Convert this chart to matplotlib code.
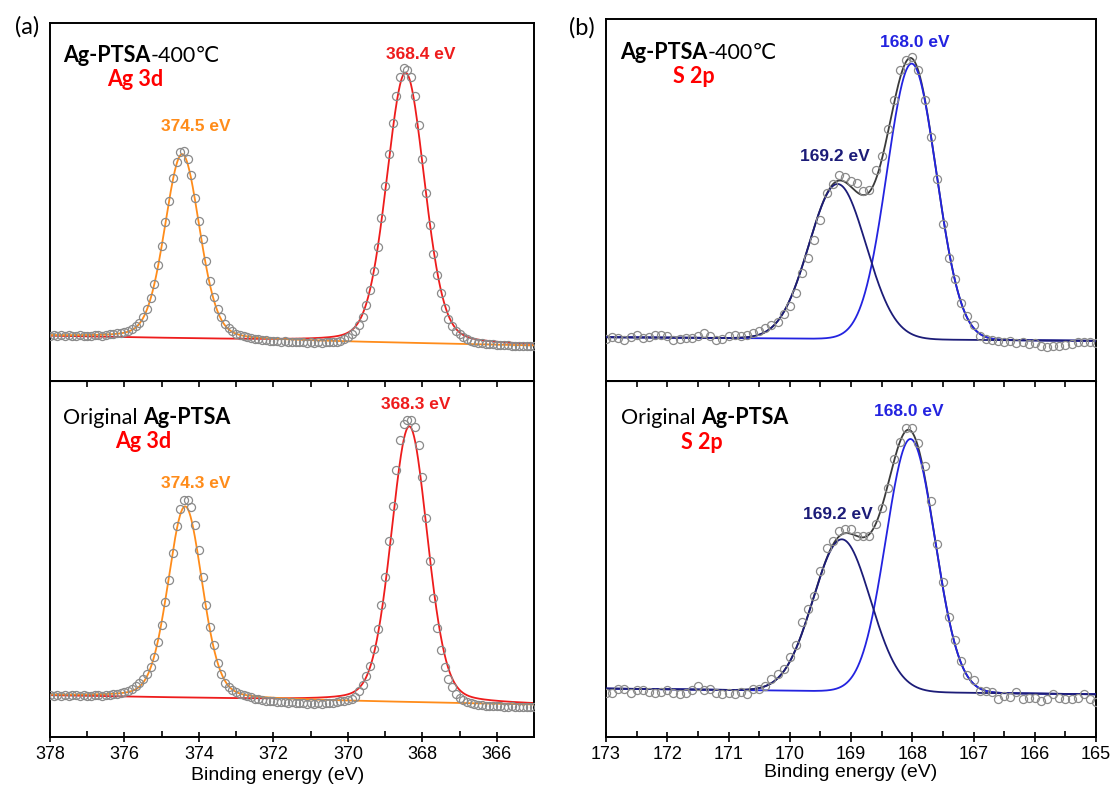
import numpy as np
import matplotlib.pyplot as plt
from matplotlib.ticker import MultipleLocator

plt.rcParams['font.family'] = ['Liberation Sans', 'DejaVu Sans']

# ---- data (intensities in arbitrary units, 0-100 per panel) ----
ag_be = np.linspace(378.0, 365.0, 131)
s_be = np.linspace(173.0, 165.0, 81)

ag_400 = [12.7, 12.9, 12.6, 12.8, 12.7, 12.9, 12.6, 12.7, 12.8, 12.6,
          12.7, 12.6, 12.8, 12.9, 12.7, 12.9, 13.0, 13.1, 13.3, 13.5,
          13.7, 14.1, 14.6, 15.3, 16.3, 17.9, 20.0, 23.3, 27.0, 32.4,
          37.6, 44.5, 50.3, 56.6, 61.2, 64.0, 64.3, 62.0, 57.5, 51.0,
          44.8, 39.8, 33.4, 28.0, 23.6, 20.2, 17.8, 16.0, 14.9, 14.0,
          13.2, 12.8, 12.5, 12.3, 12.0, 11.8, 11.6, 11.5, 11.4, 11.3,
          11.3, 11.1, 11.0, 11.1, 10.9, 10.9, 10.8, 10.9, 10.8, 10.7,
          10.8, 10.7, 10.8, 10.7, 10.8, 10.9, 10.8, 11.0, 11.2, 11.6,
          12.3, 13.0, 14.0, 15.6, 17.9, 21.2, 25.5, 30.8, 37.5, 45.5,
          54.5, 63.5, 72.0, 79.5, 85.0, 87.3, 86.8, 84.8, 79.5, 71.5,
          62.0, 52.5, 43.5, 35.5, 29.5, 24.5, 20.5, 17.4, 15.4, 14.0,
          13.0, 12.2, 11.7, 11.3, 11.0, 10.7, 10.5, 10.4, 10.3, 10.2,
          10.1, 10.1, 10.0, 10.0, 9.9, 9.9, 9.8, 9.9, 9.8, 9.7,
          9.8]
ag_orig = [11.7, 11.6, 11.8, 11.5, 11.7, 11.6, 11.8, 11.9, 11.6, 11.7,
           11.5, 11.6, 11.7, 11.8, 11.6, 11.8, 11.9, 12.0, 12.2, 12.4,
           12.6, 13.0, 13.6, 14.3, 15.2, 16.3, 17.6, 19.6, 22.6, 26.8,
           31.5, 37.8, 44.2, 51.8, 59.2, 64.0, 66.6, 66.5, 64.5, 59.5,
           52.5, 45.0, 37.0, 30.9, 25.8, 20.9, 17.6, 15.3, 14.0, 13.2,
           12.6, 12.1, 11.7, 11.4, 11.1, 10.8, 10.6, 10.4, 10.2, 10.1,
           10.0, 9.9, 9.8, 9.7, 9.6, 9.7, 9.5, 9.6, 9.5, 9.4,
           9.5, 9.4, 9.5, 9.4, 9.5, 9.6, 9.6, 9.8, 10.0, 10.2,
           10.4, 10.6, 11.3, 12.8, 14.6, 17.0, 20.0, 24.6, 30.2, 37.0,
           45.0, 55.0, 65.0, 75.0, 83.5, 88.0, 89.0, 89.0, 87.0, 82.0,
           73.0, 61.5, 49.5, 39.0, 30.5, 24.5, 19.8, 16.3, 14.0, 12.2,
           11.0, 10.3, 9.8, 9.5, 9.2, 9.0, 8.9, 8.8, 8.7, 8.7,
           8.6, 8.6, 8.5, 8.5, 8.6, 8.4, 8.5, 8.4, 8.5, 8.4,
           8.4]
s_400 = [11.6, 12.1, 11.8, 11.4, 12.2, 12.7, 11.8, 12.1, 12.8, 12.7,
         12.5, 11.4, 11.6, 11.8, 11.8, 12.5, 13.2, 12.5, 11.4, 11.6,
         12.5, 12.7, 12.5, 12.7, 13.3, 13.9, 14.6, 15.5, 16.2, 18.6,
         20.7, 24.4, 29.7, 34.0, 39.0, 44.5, 51.9, 54.5, 56.9, 56.3,
         55.2, 54.7, 52.4, 52.9, 58.4, 62.2, 69.6, 77.5, 85.8, 88.6,
         89.5, 85.8, 77.6, 67.3, 55.7, 43.3, 33.9, 28.1, 21.6, 17.9,
         15.5, 12.5, 11.6, 11.4, 11.1, 10.7, 11.1, 10.5, 10.7, 10.2,
         10.5, 9.6, 9.3, 9.6, 9.7, 9.9, 10.2, 10.9, 10.7, 10.9,
         10.5]
s_orig = [12.3, 12.3, 13.4, 13.6, 12.5, 13.2, 13.2, 12.6, 12.3, 12.6,
          13.2, 12.3, 12.0, 12.5, 13.2, 14.3, 13.2, 13.6, 12.3, 12.0,
          12.3, 12.0, 12.6, 12.0, 13.4, 13.6, 14.3, 16.2, 17.6, 19.2,
          22.6, 25.9, 32.3, 36.0, 39.6, 46.6, 53.2, 55.1, 57.9, 58.4,
          58.3, 56.5, 56.5, 56.6, 59.7, 64.4, 70.0, 78.0, 82.9, 86.9,
          86.9, 82.7, 76.1, 66.3, 54.1, 43.4, 33.7, 27.2, 21.3, 17.3,
          15.9, 12.9, 12.9, 12.6, 10.8, 11.5, 11.3, 12.6, 10.8, 11.0,
          11.0, 10.1, 10.6, 12.0, 11.0, 10.6, 10.6, 11.0, 12.0, 10.6,
          9.8]

# fitted components: centre (eV), height, FWHM (eV), lorentz fraction
ag_400_peaks = [(374.45, 51.5, 1.10, 0.2), (368.45, 75.5, 1.20, 0.2)]
ag_orig_peaks = [(374.37, 53.8, 1.08, 0.2), (368.35, 77.5, 1.15, 0.2)]
s_400_peaks = [(169.22, 42.8, 1.10, 0.0), (168.01, 76.2, 0.95, 0.0)]
s_orig_peaks = [(169.15, 42.7, 1.10, 0.0), (168.03, 71.1, 0.94, 0.0)]
# linear background: value at high BE end, value at low BE end
ag_400_bg = (12.6, 9.9)
ag_orig_bg = (11.7, 9.1)
s_400_bg = (12.1, 11.1)
s_orig_bg = (13.6, 12.0)

ORANGE = '#ff8c1a'
RED = '#ee1c1c'
NAVY = '#1c1c78'
BLUE = '#2323e0'
W, H = 1113, 792


def pv(x, c, h, w, eta):
    g = np.exp(-4 * np.log(2) * (x - c) ** 2 / w ** 2)
    l = 1 / (1 + 4 * (x - c) ** 2 / w ** 2)
    return h * ((1 - eta) * g + eta * l)


def bg_line(x, bg, lim):
    return bg[0] + (bg[1] - bg[0]) * (lim[0] - x) / (lim[0] - lim[1])


def px_axes(x0, y0, x1, y1):
    return fig.add_axes([x0 / W, 1 - y1 / H, (x1 - x0) / W, (y1 - y0) / H])


def style(ax, lim, major, minor, bottom):
    ax.set_xlim(*lim)
    ax.set_ylim(0, 100)
    ax.set_yticks([])
    for sp in ax.spines.values():
        sp.set_linewidth(1.4)
    if not bottom:
        ax.set_xticks([])
        return
    ax.xaxis.set_major_locator(MultipleLocator(major))
    ax.xaxis.set_minor_locator(MultipleLocator(minor))
    ax.tick_params(axis='x', which='major', direction='inout', length=7, width=1.2,
                   labelsize=13, pad=3)
    ax.tick_params(axis='x', which='minor', direction='in', length=4, width=1.2)
    sec = ax.secondary_xaxis('top')
    sec.xaxis.set_major_locator(MultipleLocator(minor))
    sec.tick_params(direction='in', length=4, width=1.2, labeltop=False)
    ax.set_xlabel('Binding energy (eV)', fontsize=14, labelpad=1)


def ag_panel(ax, y, peaks, bg, bottom):
    lim = (378, 365)
    xf = np.linspace(378, 365, 1300)
    base = bg_line(xf, bg, lim)
    ax.plot(xf, base + pv(xf, *peaks[1]), color=RED, lw=1.3, zorder=2)
    ax.plot(xf, base + pv(xf, *peaks[0]), color=ORANGE, lw=1.3, zorder=3)
    ax.plot(ag_be, y, 'o', mfc='none', mec='#8a8a8a', ms=5.8, mew=0.9, zorder=4)
    style(ax, lim, 2, 1, bottom)


def s_panel(ax, y, peaks, bg, bottom):
    lim = (173, 165)
    xf = np.linspace(173, 165, 1600)
    base = bg_line(xf, bg, lim)
    p1 = pv(xf, *peaks[0])
    p2 = pv(xf, *peaks[1])
    ax.plot(xf, base + p1 + p2, color='#3a3a3a', lw=1.3, zorder=2)
    ax.plot(xf, base + p2, color=BLUE, lw=1.3, zorder=3)
    ax.plot(xf, base + p1, color=NAVY, lw=1.3, zorder=3)
    ax.plot(s_be, y, 'o', mfc='none', mec='#8a8a8a', ms=5.8, mew=0.9, zorder=4)
    style(ax, lim, 1, 0.5, bottom)


FAM = ['Lato', 'DejaVu Sans']
FS = 15.5


def sample_label(ax, x, y, prefix, suffix):
    if prefix:
        t0 = ax.text(x, y, prefix, fontsize=FS, family=FAM, va='baseline')
        ax.annotate('Ag-PTSA', xy=(1, 0), xycoords=t0, fontsize=FS,
                    family=FAM, weight='bold', va='bottom')
    else:
        t = ax.text(x, y, 'Ag-PTSA', fontsize=FS, family=FAM, weight='bold',
                    va='baseline')
        ax.annotate(suffix, xy=(1, 0), xycoords=t, fontsize=FS, family=FAM,
                    va='bottom')


fig = plt.figure(figsize=(W / 100, H / 100), dpi=100)

ax_a1 = px_axes(50, 23, 534, 381)
ax_a2 = px_axes(50, 381, 534, 737)
ax_b1 = px_axes(606, 19, 1096, 381)
ax_b2 = px_axes(606, 381, 1096, 737)

ag_panel(ax_a1, ag_400, ag_400_peaks, ag_400_bg, False)
ag_panel(ax_a2, ag_orig, ag_orig_peaks, ag_orig_bg, True)
s_panel(ax_b1, s_400, s_400_peaks, s_400_bg, False)
s_panel(ax_b2, s_orig, s_orig_peaks, s_orig_bg, True)
ax_a2.xaxis.set_label_coords(0.47, -0.085)

lab = dict(fontsize=12.5, weight='bold', ha='center', va='center')
big = dict(fontsize=FS, weight='bold', color='#ff0000', va='center', family=FAM)

sample_label(ax_a1, 377.65, 89.0, None, '-400\u2103')
ax_a1.text(376.47, 84.1, 'Ag 3d', **big)
ax_a1.text(374.08, 71.2, '374.5 eV', color=ORANGE, **lab)
ax_a1.text(368.04, 91.1, '368.4 eV', color=RED, **lab)

sample_label(ax_a2, 377.66, 88.0, 'Original ', None)
ax_a2.text(376.25, 82.9, 'Ag 3d', **big)
ax_a2.text(374.08, 71.1, '374.3 eV', color=ORANGE, **lab)
ax_a2.text(368.17, 93.3, '368.3 eV', color=RED, **lab)

sample_label(ax_b1, 172.77, 89.0, None, '-400\u2103')
ax_b1.text(171.91, 84.0, 'S 2p', **big)
ax_b1.text(169.26, 61.9, '169.2 eV', color=NAVY, **lab)
ax_b1.text(167.96, 93.6, '168.0 eV', color=BLUE, **lab)

sample_label(ax_b2, 172.76, 88.0, 'Original ', None)
ax_b2.text(171.78, 82.6, 'S 2p', **big)
ax_b2.text(169.21, 62.4, '169.2 eV', color=NAVY, **lab)
ax_b2.text(168.05, 91.3, '168.0 eV', color=BLUE, **lab)

fig.text(27 / W, 1 - 27 / H, '(a)', fontsize=17, ha='center', va='center', family=FAM)
fig.text(582 / W, 1 - 28 / H, '(b)', fontsize=17, ha='center', va='center', family=FAM)

fig.savefig('out.png', dpi=100)
